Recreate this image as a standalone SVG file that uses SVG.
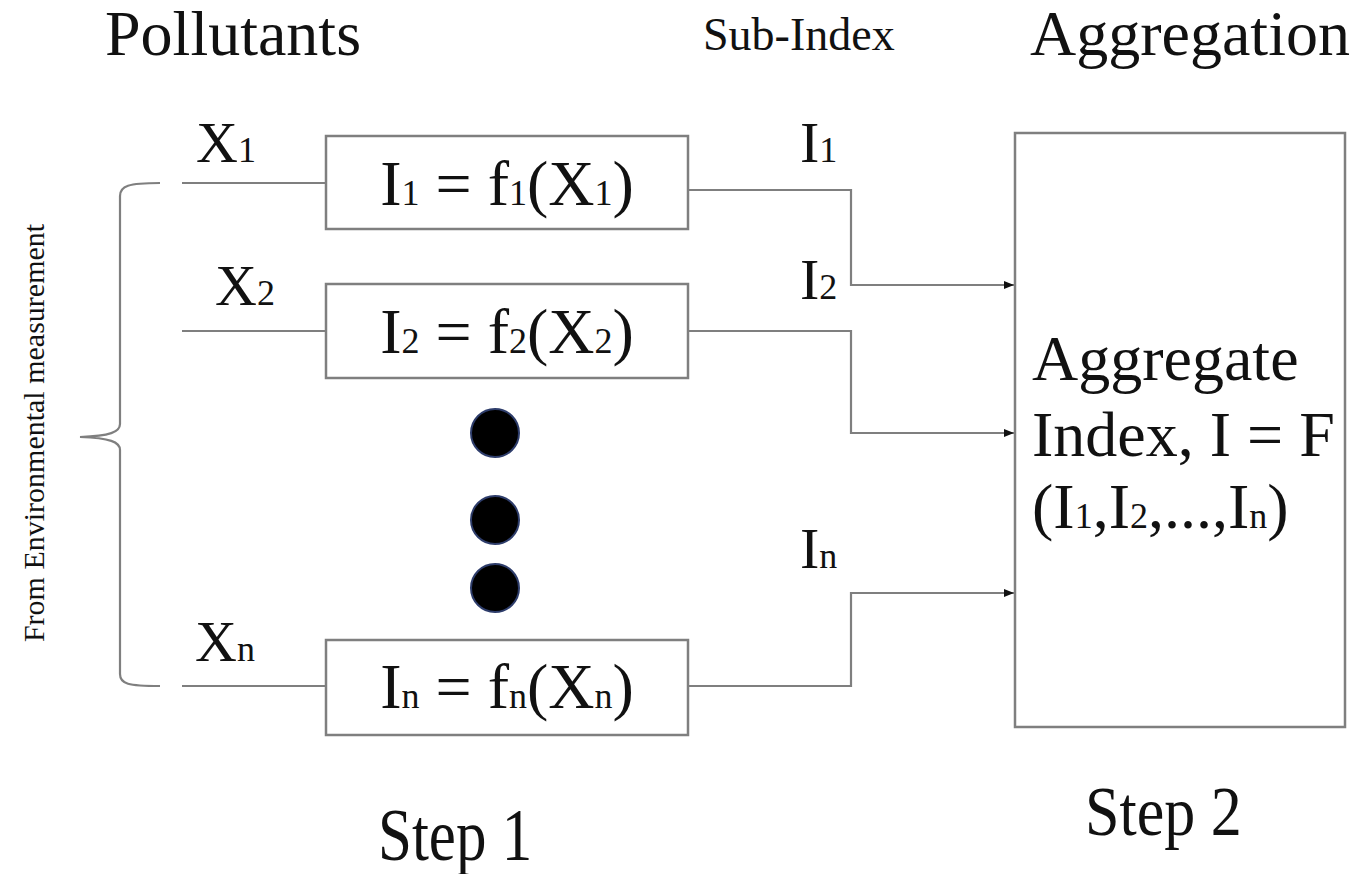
<svg xmlns="http://www.w3.org/2000/svg" width="1352" height="874" viewBox="0 0 1352 874">
<style>
text{font-family:"Liberation Serif","Times New Roman","DejaVu Serif",serif;fill:#111}
.box{fill:#fff;stroke:#7f7f7f;stroke-width:2.5}
.ln{fill:none;stroke:#7f7f7f;stroke-width:2.2}
.big{font-size:32px}
.lbl{font-size:29px}
.s{font-size:18px}
.dot{fill:#000;stroke:#2e3d6b;stroke-width:2}
</style>
<defs>
<marker id="arr" viewBox="0 0 10 8" refX="10" refY="4" markerWidth="10" markerHeight="8" markerUnits="userSpaceOnUse" orient="auto">
<path d="M0,0 L10,4 L0,8 z" fill="#111"/>
</marker>
</defs>
<g id="headings">
<text class="big" transform="translate(105,55) scale(2)">Pollutants</text>
<text x="703" y="50" font-size="46">Sub-Index</text>
<text class="big" transform="translate(1030,55) scale(2)">Aggregation</text>
<text transform="translate(378,860) scale(2,2.4)" font-size="30.5">Step 1</text>
<text transform="translate(1085,835) scale(2,2.26)" font-size="31">Step 2</text>
</g>
<g id="source">
<path class="ln" d="M160,183 C128,183 120,186 120,196 L120,424 C120,432 110,436 80,437 C110,438 120,442 120,450 L120,674 C120,684 128,686 160,686"/>
<text transform="translate(44,433) rotate(-90)" text-anchor="middle" font-size="30">From Environmental measurement</text>
</g>
<g id="labels-x">
<text class="lbl" transform="translate(196,162) scale(2)">X<tspan class="s">1</tspan></text>
<text class="lbl" transform="translate(215,305) scale(2)">X<tspan class="s">2</tspan></text>
<text class="lbl" transform="translate(195,661) scale(2)">X<tspan class="s">n</tspan></text>
</g>
<g id="connectors">
<line class="ln" x1="182" y1="183" x2="326" y2="183"/>
<line class="ln" x1="182" y1="331" x2="326" y2="331"/>
<line class="ln" x1="182" y1="686" x2="326" y2="686"/>
<path class="ln" d="M688,190 H851 V285 H1014" marker-end="url(#arr)"/>
<path class="ln" d="M688,331 H851 V433 H1014" marker-end="url(#arr)"/>
<path class="ln" d="M688,686 H851 V593 H1014" marker-end="url(#arr)"/>
</g>
<g id="node-f1">
<rect class="box" x="326" y="136" width="362" height="93"/>
<text class="big" transform="translate(507,205) scale(2)" text-anchor="middle">I<tspan class="s">1</tspan> = f<tspan class="s">1</tspan>(X<tspan class="s">1</tspan>)</text>
</g>
<g id="node-f2">
<rect class="box" x="326" y="284" width="362" height="94"/>
<text class="big" transform="translate(507,353) scale(2)" text-anchor="middle">I<tspan class="s">2</tspan> = f<tspan class="s">2</tspan>(X<tspan class="s">2</tspan>)</text>
</g>
<g id="ellipsis">
<circle class="dot" cx="495" cy="433" r="24"/>
<circle class="dot" cx="495" cy="520" r="24"/>
<circle class="dot" cx="495" cy="588" r="24"/>
</g>
<g id="node-fn">
<rect class="box" x="326" y="640" width="362" height="95"/>
<text class="big" transform="translate(507,708) scale(2)" text-anchor="middle">I<tspan class="s">n</tspan> = f<tspan class="s">n</tspan>(X<tspan class="s">n</tspan>)</text>
</g>
<g id="labels-i">
<text class="lbl" transform="translate(800,162) scale(2)">I<tspan class="s">1</tspan></text>
<text class="lbl" transform="translate(800,299) scale(2)">I<tspan class="s">2</tspan></text>
<text class="lbl" transform="translate(800,568) scale(2)">I<tspan class="s">n</tspan></text>
</g>
<g id="node-aggregate">
<rect class="box" x="1015" y="133" width="330" height="594"/>
<text class="big" transform="translate(1032,380) scale(2)">Aggregate</text>
<text class="big" transform="translate(1032,456) scale(2)">Index, I = F</text>
<text class="big" transform="translate(1032,528) scale(2)">(I<tspan class="s">1</tspan>,I<tspan class="s">2</tspan>,...,I<tspan class="s">n</tspan>)</text>
</g>
</svg>
